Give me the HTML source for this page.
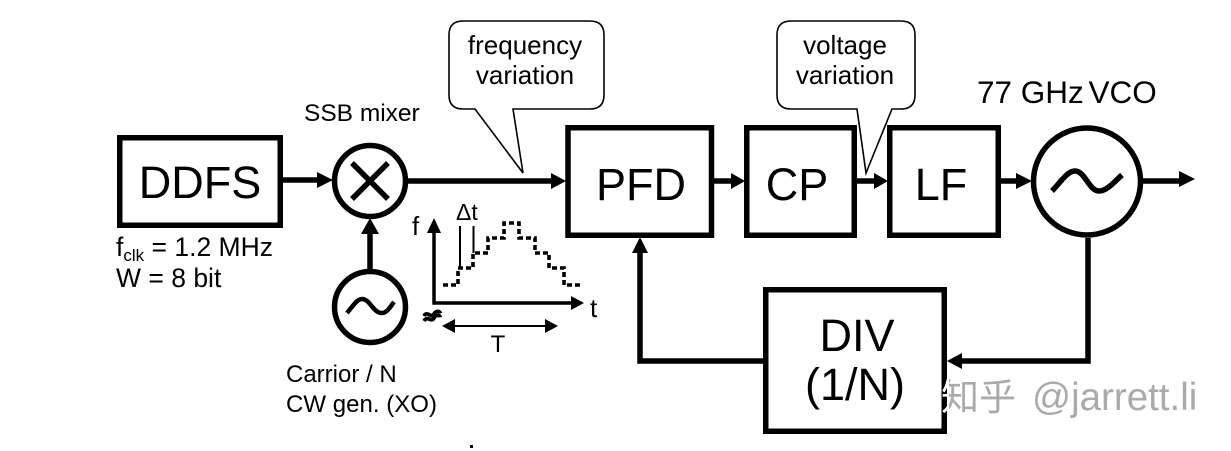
<!DOCTYPE html>
<html><head><meta charset="utf-8"><style>
html,body{margin:0;padding:0;background:#fff}
svg{display:block}
text{font-family:"Liberation Sans","Noto Sans CJK SC",sans-serif;fill:#000}
</style></head><body>
<svg width="1231" height="451" viewBox="0 0 1231 451" xmlns="http://www.w3.org/2000/svg">
<rect width="1231" height="451" fill="#fff"/>
<g fill="none" stroke="#000" stroke-width="5.5">
<rect x="119.75" y="137.75" width="160.5" height="87.5"/>
<rect x="568" y="127.75" width="143.5" height="107.5"/>
<rect x="746.75" y="127.75" width="107.5" height="107.5"/>
<rect x="889.75" y="127.75" width="108.5" height="107.5"/>
<rect x="765.75" y="289.75" width="178.5" height="141.5"/>
<circle cx="370" cy="181" r="35.5"/>
<circle cx="370" cy="307" r="35.5"/>
<circle cx="1087" cy="181.5" r="53.5"/>
<path d="M352 163L388 199M388 163L352 199"/>
<path d="M347 313C353 306 357 299 362 299C370 299 373 313 382 313C387 313 390 307 394 302" stroke-width="4.5"/>
<path d="M1052 191C1060 183 1067 171 1075 171C1085 171 1089 191 1099 191C1107 191 1114 182 1122 175" stroke-width="5.5"/>
<!-- connectors -->
<path d="M283 180H320M408 181H554M370 269V231M714 181H734M857 181H877M1001 181H1019M1143 181H1181"/>
<path d="M763 361H640V251M1088 238V361H960"/>
</g>
<g fill="#000">
<path d="M333 180L317 172V188Z"/>
<path d="M566 181L551 173V189Z"/>
<path d="M370 218L361 234H379Z"/>
<path d="M745 181L731 173V189Z"/>
<path d="M888 181L874 173V189Z"/>
<path d="M1032 181L1016 173V189Z"/>
<path d="M1195 179L1179 171V187Z"/>
<path d="M640 237L632 253H648Z"/>
<path d="M947 361L962 353V369Z"/>
</g>
<!-- callouts -->
<path d="M463 21H590Q604 21 604 35V95Q604 109 590 109H513L523 173L475 109H463Q449 109 449 95V35Q449 21 463 21Z" fill="#fff" stroke="#000" stroke-width="1.600"/>
<path d="M791 21H901Q915 21 915 35V95Q915 109 901 109H892L866 173L857 109H791Q777 109 777 95V35Q777 21 791 21Z" fill="#fff" stroke="#000" stroke-width="1.600"/>
<!-- graph -->
<g fill="none" stroke="#000">
<path d="M434 230V303H573" stroke-width="3.500"/>
<path d="M452 326H548" stroke-width="2"/>
<path d="M460 226V268M473.500 226V253" stroke-width="2"/>
<path d="M443 285H458V268H473V253H488V238H504V223H519V238H535V253H549V268H564V285H582" stroke-width="3.600" stroke-dasharray="5 3"/>
<path d="M424 316C427 310 431 319 434 314C437 309 439 313 441 311M424 321C428 315 431 323 434 318C437 313 439 317 441 315" stroke-width="3.800"/>
</g>
<g fill="#000">
<path d="M434 218L427 233H441Z"/>
<path d="M584 303L571 296V310Z"/>
<path d="M442 326L455 319V333Z"/>
<path d="M558 326L545 319V333Z"/>
</g>
<!-- text -->
<text x="200" y="198" font-size="45" text-anchor="middle">DDFS</text>
<text x="641" y="200" font-size="45" text-anchor="middle">PFD</text>
<text x="797" y="200" font-size="45" text-anchor="middle">CP</text>
<text x="941" y="200" font-size="45" text-anchor="middle">LF</text>
<text x="857" y="351" font-size="45" text-anchor="middle">DIV</text>
<text x="855" y="400" font-size="45" text-anchor="middle">(1/N)</text>
<text x="525" y="54" font-size="26" text-anchor="middle">frequency</text>
<text x="525" y="84" font-size="26" text-anchor="middle">variation</text>
<text x="845" y="54" font-size="26" text-anchor="middle">voltage</text>
<text x="845" y="84" font-size="26" text-anchor="middle">variation</text>
<text x="977" y="103" font-size="31.500">77 GHz<tspan dx="-4"> VCO</tspan></text>
<text x="304" y="121" font-size="24.500">SSB mixer</text>
<text x="116" y="256" font-size="26.500">f<tspan font-size="17" dy="5">clk</tspan><tspan dy="-5"> = 1.2 MHz</tspan></text>
<text x="116" y="287" font-size="26.500">W = 8 bit</text>
<text x="286" y="382" font-size="24">Carrior / N</text>
<text x="286" y="412" font-size="24" textLength="151" lengthAdjust="spacing">CW gen. (XO)</text>
<text x="456" y="220" font-size="23">Δt</text>
<text x="412" y="235" font-size="26">f</text>
<text x="590" y="317" font-size="26">t</text>
<text x="498" y="352" font-size="24" text-anchor="middle">T</text>
<!-- watermark -->
<clipPath id="wm"><rect x="949" y="370" width="80" height="60"/></clipPath>
<text x="941" y="410" font-size="37" style="fill:#fff">知乎</text>
<text x="942" y="410" font-size="37" style="fill:#aaa" clip-path="url(#wm)">知乎</text>
<text x="1032" y="410" font-size="38.500" style="fill:#aaa">@jarrett.li</text>
<rect x="470" y="445" width="3" height="3" fill="#000"/>
</svg>
</body></html>
